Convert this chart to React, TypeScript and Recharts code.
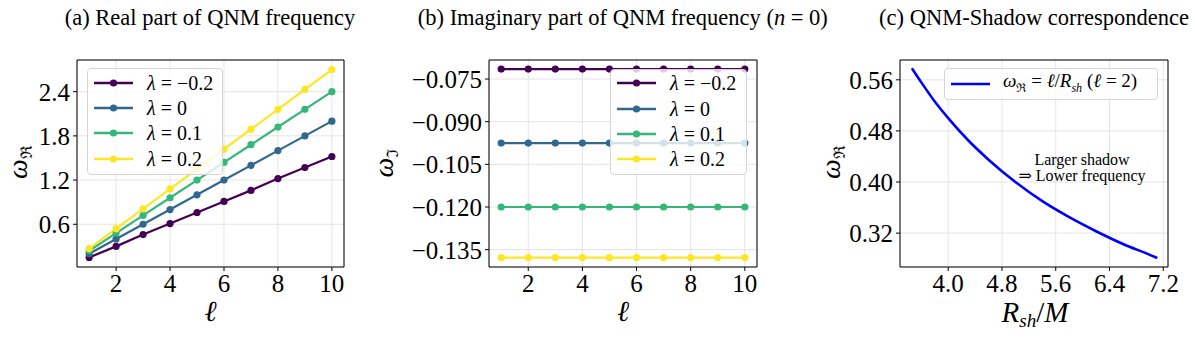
import React from 'react';
import { LineChart, Line, XAxis, YAxis, CartesianGrid, ReferenceArea, Legend } from 'recharts';

const FONT = '"Liberation Serif", "DejaVu Serif", serif';

// ---------- data ----------
const ells = [1, 2, 3, 4, 5, 6, 7, 8, 9, 10];
const lambdaLabels = ['−0.2', '0', '0.1', '0.2'];
const lambdaColors = ['#440154', '#31688e', '#35b779', '#fde725'];
const seriesKeys = ['s0', 's1', 's2', 's3'];

const realM02 = [0.15, 0.30, 0.46, 0.61, 0.76, 0.91, 1.06, 1.22, 1.37, 1.52];
const real0 = [0.20, 0.40, 0.60, 0.80, 1.00, 1.20, 1.40, 1.60, 1.80, 2.00];
const real01 = [0.24, 0.48, 0.72, 0.96, 1.20, 1.44, 1.68, 1.92, 2.16, 2.40];
const real02 = [0.27, 0.54, 0.81, 1.08, 1.35, 1.62, 1.89, 2.16, 2.43, 2.70];

const imagM02 = [-0.0715, -0.0715, -0.0715, -0.0715, -0.0715, -0.0715, -0.0715, -0.0715, -0.0715, -0.0715];
const imag0 = [-0.0975, -0.0975, -0.0975, -0.0975, -0.0975, -0.0975, -0.0975, -0.0975, -0.0975, -0.0975];
const imag01 = [-0.12, -0.12, -0.12, -0.12, -0.12, -0.12, -0.12, -0.12, -0.12, -0.12];
const imag02 = [-0.1378, -0.1378, -0.1378, -0.1378, -0.1378, -0.1378, -0.1378, -0.1378, -0.1378, -0.1378];

const shadowR = [3.46, 3.6, 3.8, 4.0, 4.3, 4.6, 5.0, 5.4, 5.8, 6.2, 6.6, 7.0, 7.11];
const shadowOmega = [0.578, 0.556, 0.526, 0.500, 0.465, 0.435, 0.400, 0.370, 0.345, 0.323, 0.303, 0.286, 0.281];

const ellTicks = [2, 4, 6, 8, 10];
const realTicks = [0.6, 1.2, 1.8, 2.4];
const imagTicks = [-0.135, -0.12, -0.105, -0.09, -0.075];
const rshTicks = [4.0, 4.8, 5.6, 6.4, 7.2];
const omegaTicks = [0.32, 0.40, 0.48, 0.56];

const realRows = ells.map((l, i) => ({ l, s0: realM02[i], s1: real0[i], s2: real01[i], s3: real02[i] }));
const imagRows = ells.map((l, i) => ({ l, s0: imagM02[i], s1: imag0[i], s2: imag01[i], s3: imag02[i] }));
const shadowRows = shadowR.map((r, i) => ({ r, w: shadowOmega[i] }));

// ---------- helpers ----------
const tickStyle = { fontSize: 25, fill: '#000', fontFamily: FONT };
const minusFmt = (v: number, d: number) => (v < 0 ? '−' : '') + Math.abs(v).toFixed(d);

const legendBox: React.CSSProperties = {
  border: '1px solid #d5d5d5',
  borderRadius: 4,
  background: 'rgba(255,255,255,0.8)',
  boxSizing: 'border-box',
  fontFamily: FONT,
  color: '#000',
};

const Swatch = ({ color, dot }: { color: string; dot: boolean }) => (
  <svg width={40} height={12} style={{ display: 'block', flex: 'none' }}>
    <line x1={0} y1={6} x2={39} y2={6} stroke={color} strokeWidth={2.4} />
    {dot && <circle cx={19.5} cy={6} r={3.6} fill={color} />}
  </svg>
);

const LambdaLegend = ({ width, height, padTop }: { width: number; height: number; padTop: number }) => (
  <div style={{ ...legendBox, width, height, paddingTop: padTop }}>
    {lambdaLabels.map((lab, i) => (
      <div key={lab} style={{ display: 'flex', alignItems: 'center', height: 25.4, paddingLeft: 6 }}>
        <Swatch color={lambdaColors[i]} dot />
        <span style={{ marginLeft: 13, fontSize: 20, whiteSpace: 'nowrap', lineHeight: '20px' }}>
          <i>λ</i>&nbsp;=&nbsp;{lab}
        </span>
      </div>
    ))}
  </div>
);

const ShadowLegend = () => (
  <div style={{ ...legendBox, width: 214, height: 32, display: 'flex', alignItems: 'center', paddingLeft: 6 }}>
    <Swatch color="#0000ff" dot={false} />
    <span style={{ marginLeft: 12, fontSize: 19, whiteSpace: 'nowrap', lineHeight: '20px' }}>
      <i>ω</i><sub style={{ fontSize: 12 }}>ℜ</sub>&nbsp;=&nbsp;<i>ℓ</i>/<i>R</i><sub style={{ fontSize: 12 }}><i>sh</i></sub>&nbsp;(<i>ℓ</i>&nbsp;=&nbsp;2)
    </span>
  </div>
);

const YLab = (cx: number, cy: number, sub: string) => () => (
  <text x={cx} y={cy} textAnchor="middle" transform={`rotate(-90 ${cx} ${cy})`} fontFamily={FONT} fontSize={28} fill="#000">
    <tspan fontStyle="italic">ω</tspan>
    <tspan fontSize={16} dy={5}>{sub}</tspan>
  </text>
);

const EllLab = (cx: number, cy: number) => () => (
  <text x={cx} y={cy} textAnchor="middle" fontFamily={FONT} fontSize={29} fontStyle="italic" fill="#000">ℓ</text>
);

const RshLab = (cx: number, cy: number) => () => (
  <text x={cx} y={cy} textAnchor="middle" fontFamily={FONT} fontSize={29} fill="#000">
    <tspan fontStyle="italic">R</tspan>
    <tspan fontStyle="italic" fontSize={19} dy={5}>sh</tspan>
    <tspan dy={-5}>/</tspan>
    <tspan fontStyle="italic">M</tspan>
  </text>
);

const Title = ({ cx, children }: { cx: number; children: React.ReactNode }) => (
  <div style={{ position: 'absolute', left: cx - 300, width: 600, top: 5, textAlign: 'center', fontFamily: FONT, fontSize: 22.5, lineHeight: '26px', color: '#000', whiteSpace: 'nowrap' }}>
    {children}
  </div>
);

const GRID = '#e4e4e4';

export default function App() {
  const H = 339;
  return (
    <div style={{ position: 'absolute', left: 0, top: 0, width: 1195, height: 339, background: '#fff', overflow: 'hidden' }}>
      {/* (a) */}
      <div style={{ position: 'absolute', left: 0, top: 0 }}>
        <LineChart width={400} height={H} data={realRows} margin={{ top: 60, right: 56, bottom: 0, left: 0 }}>
          <CartesianGrid stroke={GRID} strokeWidth={1} />
          <XAxis dataKey="l" type="number" domain={[0.55, 10.45]} ticks={ellTicks} allowDataOverflow height={72}
            tick={tickStyle} tickSize={4} tickMargin={3} axisLine={false} tickLine={{ stroke: '#000' }}
            label={{ content: EllLab(210.5, 321) }} />
          <YAxis type="number" domain={[0.02, 2.83]} ticks={realTicks} allowDataOverflow width={77}
            tick={tickStyle} tickSize={4} tickMargin={3} axisLine={false} tickLine={{ stroke: '#000' }}
            tickFormatter={(v: number) => v.toFixed(1)} label={{ content: YLab(27, 162, 'ℜ') }} />
          <ReferenceArea x1={0.55} x2={10.45} y1={0.02} y2={2.83} fill="none" stroke="#000" strokeWidth={1} ifOverflow="visible" />
          {seriesKeys.map((k, i) => (
            <Line key={k} dataKey={k} stroke={lambdaColors[i]} strokeWidth={2.2} dot={{ r: 3.6, fill: lambdaColors[i], stroke: lambdaColors[i], strokeWidth: 0 }} activeDot={false} isAnimationActive={false} />
          ))}
          <Legend verticalAlign="middle" align="center" layout="horizontal" content={() => <LambdaLegend width={136} height={107} padTop={1} />}
            wrapperStyle={{ left: 87, top: 68, width: 'auto', height: 'auto' }} />
        </LineChart>
      </div>

      {/* (b) */}
      <div style={{ position: 'absolute', left: 365, top: 0 }}>
        <LineChart width={430} height={H} data={imagRows} margin={{ top: 60, right: 38, bottom: 0, left: 0 }}>
          <CartesianGrid stroke={GRID} strokeWidth={1} />
          <XAxis dataKey="l" type="number" domain={[0.55, 10.45]} ticks={ellTicks} allowDataOverflow height={72}
            tick={tickStyle} tickSize={4} tickMargin={3} axisLine={false} tickLine={{ stroke: '#000' }}
            label={{ content: EllLab(258, 321) }} />
          <YAxis type="number" domain={[-0.1411, -0.0683]} ticks={imagTicks} allowDataOverflow width={124}
            tick={tickStyle} tickSize={4} tickMargin={3} axisLine={false} tickLine={{ stroke: '#000' }}
            tickFormatter={(v: number) => minusFmt(v, 3)} label={{ content: YLab(28, 163, 'ℑ') }} />
          <ReferenceArea x1={0.55} x2={10.45} y1={-0.1411} y2={-0.0683} fill="none" stroke="#000" strokeWidth={1} ifOverflow="visible" />
          {seriesKeys.map((k, i) => (
            <Line key={k} dataKey={k} stroke={lambdaColors[i]} strokeWidth={2.2} dot={{ r: 3.6, fill: lambdaColors[i], stroke: lambdaColors[i], strokeWidth: 0 }} activeDot={false} isAnimationActive={false} />
          ))}
          <Legend verticalAlign="middle" align="center" layout="horizontal" content={() => <LambdaLegend width={137} height={106} padTop={1} />}
            wrapperStyle={{ left: 245, top: 68.5, width: 'auto', height: 'auto' }} />
        </LineChart>
      </div>

      {/* (c) */}
      <div style={{ position: 'absolute', left: 795, top: 0 }}>
        <LineChart width={400} height={H} data={shadowRows} margin={{ top: 60, right: 27, bottom: 0, left: 0 }}>
          <CartesianGrid stroke={GRID} strokeWidth={1} />
          <XAxis dataKey="r" type="number" domain={[3.283, 7.27]} ticks={rshTicks} allowDataOverflow height={72}
            tick={tickStyle} tickSize={4} tickMargin={3} axisLine={false} tickLine={{ stroke: '#000' }}
            tickFormatter={(v: number) => v.toFixed(1)} label={{ content: RshLab(240, 322) }} />
          <YAxis type="number" domain={[0.267, 0.591]} ticks={omegaTicks} allowDataOverflow width={105}
            tick={tickStyle} tickSize={4} tickMargin={3} axisLine={false} tickLine={{ stroke: '#000' }}
            tickFormatter={(v: number) => v.toFixed(2)} label={{ content: YLab(45, 162, 'ℜ') }} />
          <ReferenceArea x1={3.283} x2={7.27} y1={0.267} y2={0.591} fill="none" stroke="#000" strokeWidth={1} ifOverflow="visible" />
          <Line dataKey="w" type="monotone" stroke="#0000ff" strokeWidth={2.6} dot={false} activeDot={false} isAnimationActive={false} />
          <Legend verticalAlign="middle" align="center" layout="horizontal" content={() => <ShadowLegend />}
            wrapperStyle={{ left: 149, top: 68, width: 'auto', height: 'auto' }} />
        </LineChart>
        <div style={{ position: 'absolute', left: 287 - 80, width: 160, top: 152, textAlign: 'center', fontFamily: FONT, fontSize: 16, lineHeight: '15.5px', color: '#000' }}>
          Larger shadow<br />⇒ Lower frequency
        </div>
      </div>

      <Title cx={210}>(a) Real part of QNM frequency</Title>
      <Title cx={622.8}>(b) Imaginary part of QNM frequency (<i>n</i> = 0)</Title>
      <Title cx={1034}>(c) QNM-Shadow correspondence</Title>
    </div>
  );
}
